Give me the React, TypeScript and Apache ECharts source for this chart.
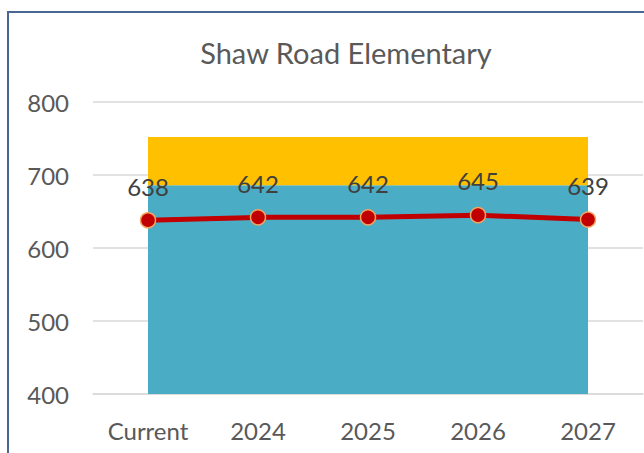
import React, { useEffect, useRef } from "react";
import * as echarts from "echarts";

const categories = ["Current", "2024", "2025", "2026", "2027"];
const capacityBase = [686, 686, 686, 686, 686];
const capacityExtra = [66, 66, 66, 66, 66];
const enrollment = [638, 642, 642, 645, 639];
const yTicks = { min: 400, max: 800, interval: 100 };

export default function App() {
  const ref = useRef<HTMLDivElement>(null);
  useEffect(() => {
    document.body.style.margin = "0";
    const chart = echarts.init(ref.current!, null, { renderer: "svg" });
    const font = "Lato, 'Open Sans', sans-serif";
    chart.setOption({
      animation: false,
      backgroundColor: "#ffffff",
      title: {
        text: "Shaw Road Elementary",
        left: 341,
        textAlign: "center",
        top: 33,
        textStyle: { fontFamily: font, fontSize: 29, fontWeight: "normal", color: "#595959" },
      },
      graphic: [
        {
          type: "rect",
          shape: { x: 8, y: 12, width: 700, height: 500 },
          style: { fill: "none", stroke: "#4a6794", lineWidth: 2 },
          silent: true,
          z: 100,
        },
      ],
      grid: { left: 93, top: 102, width: 550, height: 292, containLabel: false },
      xAxis: {
        type: "category",
        data: categories,
        boundaryGap: true,
        axisLine: { show: true, lineStyle: { color: "#d9d9d9", width: 1.5 } },
        axisTick: { show: false },
        axisLabel: { fontFamily: font, fontSize: 24, color: "#595959", margin: 24 },
      },
      yAxis: {
        type: "value",
        min: yTicks.min,
        max: yTicks.max,
        interval: yTicks.interval,
        axisLine: { show: false },
        axisTick: { show: false },
        axisLabel: { fontFamily: font, fontSize: 24, color: "#595959", margin: 24 },
        splitLine: { lineStyle: { color: "#d9d9d9", width: 1.5 } },
      },
      series: [
        {
          type: "line",
          stack: "cap",
          data: capacityBase,
          symbol: "none",
          lineStyle: { width: 0 },
          areaStyle: { color: "#4bacc6", opacity: 1 },
          z: 1,
        },
        {
          type: "line",
          stack: "cap",
          data: capacityExtra,
          symbol: "none",
          lineStyle: { width: 0 },
          areaStyle: { color: "#ffc000", opacity: 1 },
          z: 1,
        },
        {
          type: "line",
          data: enrollment,
          symbol: "circle",
          symbolSize: 15,
          lineStyle: { color: "#c00000", width: 5 },
          itemStyle: { color: "#c00000", borderColor: "#f4a460", borderWidth: 1.5 },
          label: {
            show: true,
            position: "top",
            distance: 14,
            fontFamily: font,
            fontSize: 24,
            color: "#404040",
          },
          z: 5,
        },
      ],
    });
    return () => chart.dispose();
  }, []);
  return <div ref={ref} style={{ width: 644, height: 453 }} />;
}
